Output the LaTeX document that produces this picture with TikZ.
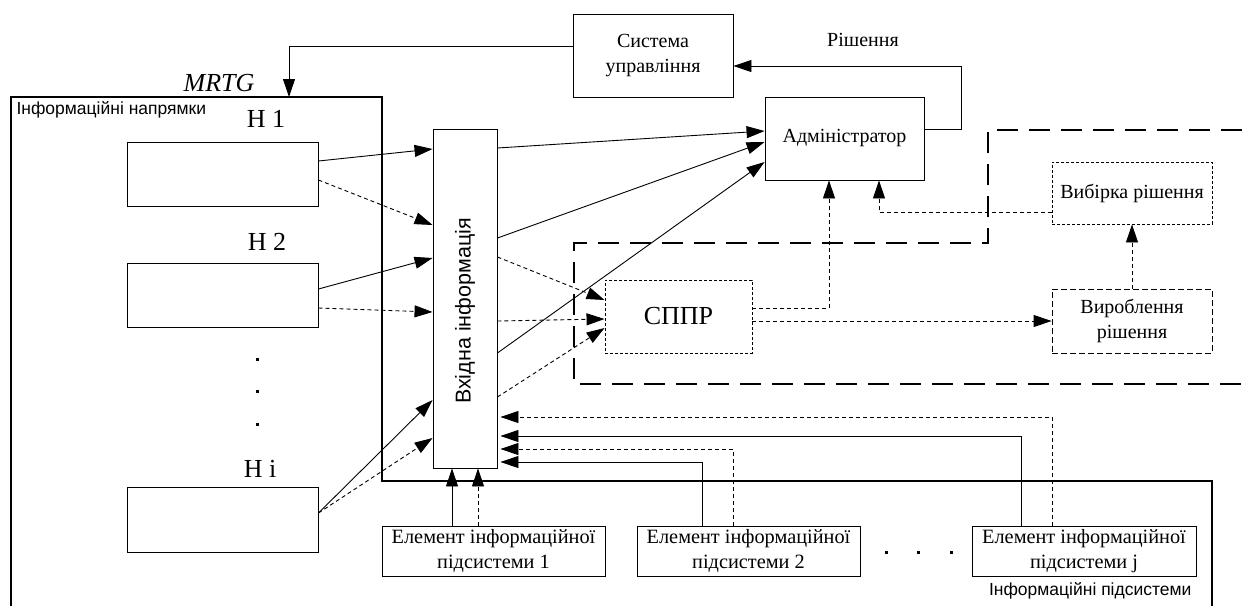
\documentclass[tikz,border=0pt]{standalone}
\usepackage{fontspec}
\setmainfont{Liberation Serif}
\setsansfont{Liberation Sans}
\usetikzlibrary{arrows.meta}
\begin{document}
\begin{tikzpicture}[x=1pt,y=-1pt,
  box/.style={draw, line width=0.9pt, inner sep=0pt, rectangle},
  dbox/.style={draw, line width=0.9pt, dash pattern=on 3pt off 2pt, inner sep=0pt, rectangle},
  d2box/.style={draw, line width=0.9pt, dash pattern=on 6pt off 3pt, inner sep=0pt, rectangle},
  lbl/.style={font=\fontsize{20}{25}\selectfont, align=center},
  elbl/.style={font=\fontsize{20.3}{25}\selectfont, align=center},
  biglbl/.style={font=\fontsize{26}{28}\selectfont},
  sanslbl/.style={font=\sffamily\fontsize{17.5}{20}\selectfont},
  arr/.style={-{Triangle[length=18pt,width=12pt]}, line width=0.9pt},
  darr/.style={arr, dash pattern=on 4pt off 3pt},
  thickline/.style={line width=2.8pt},
  thickdash/.style={line width=2.8pt, dash pattern=on 21pt off 11pt},
]
\useasboundingbox (0,0) rectangle (1242,606);

% big outer frame
\draw[thickline] (11,606) -- (11,97) -- (382,97) -- (382,481) -- (1212,481) -- (1212,606);
% decision region
\draw[thickdash] (1242,130) -- (988,130) -- (988,243) -- (574,243) -- (574,384) -- (1242,384);

% nodes
\node[box, lbl, minimum width=160pt, minimum height=83pt] (sys) at (653,55.5) {Система\\управління};
\node[box, lbl, minimum width=159pt, minimum height=83pt] (adm) at (844.5,138.5) {Адміністратор};
\node[box, minimum width=64pt, minimum height=339pt] (vh) at (465,298.5) {};
\node[rotate=90, font=\sffamily\fontsize{21.5}{24}\selectfont] (vhtxt) at (465,311) {Вхідна інформація};

\node[box, minimum width=191pt, minimum height=64pt] (h1) at (222.5,174) {};
\node[box, minimum width=191pt, minimum height=64pt] (h2) at (222.5,295) {};
\node[box, minimum width=191pt, minimum height=65pt] (hi) at (222.5,519.5) {};
\node[biglbl] (h1l) at (266,119) {Н 1};
\node[biglbl] (h2l) at (267,242) {Н 2};
\node[biglbl] (hil) at (260,469) {Н i};
\foreach \yy in {359,391,424} {
  \fill (255.5,\yy-1.5) rectangle ++(3,3);
}

\node[font=\itshape\fontsize{26}{28}\selectfont] (mrtg) at (219,83) {MRTG};
\node[sanslbl, anchor=west] (napr) at (13,110) {Інформаційні напрямки};
\node[sanslbl, anchor=east] (pids) at (1195,591) {Інформаційні підсистеми};
\node[lbl] (rish) at (863,40) {Рішення};

\node[dbox, biglbl, minimum width=147pt, minimum height=73pt] (sppr) at (678.5,316.5) {СППР};
\node[dbox, lbl, minimum width=160pt, minimum height=62pt] (vyb) at (1132,193) {Вибірка рішення};
\node[d2box, lbl, minimum width=160pt, minimum height=64pt] (vyr) at (1132,321) {Вироблення\\рішення};

\node[box, elbl, minimum width=223pt, minimum height=50pt] (e1) at (493.5,551) {Елемент інформаційної\\підсистеми 1};
\node[box, elbl, minimum width=223pt, minimum height=50pt] (e2) at (748.5,551) {Елемент інформаційної\\підсистеми 2};
\node[box, elbl, minimum width=224pt, minimum height=50pt] (ej) at (1084,551) {Елемент інформаційної\\підсистеми j};
\foreach \xx in {886,918,951} {
  \fill (\xx-1.5,550.5) rectangle ++(3,3);
}

% feedback from control system
\coordinate (mrtgtop) at (289,97);
\draw[arr] (sys.west |- 0,46) -- (289,46) -- (mrtgtop);
\draw[arr] (adm.east |- 0,129) -- (961,129) -- (961,66) -- (sys.east |- 0,66);

% H -> input
\draw[arr] (h1.east |- 0,161) -- (vh.west |- 0,149);
\draw[darr] (h1.east |- 0,180) -- (vh.west |- 0,225);
\draw[arr] (h2.east |- 0,289) -- (vh.west |- 0,258);
\draw[darr] (h2.east |- 0,308) -- (vh.west |- 0,312);
\draw[arr] (hi.east |- 0,513) -- (vh.west |- 0,400);
\draw[darr] (hi.east |- 0,513) -- (vh.west |- 0,438);

% input -> admin
\draw[arr] (vh.east |- 0,148) -- (adm.west |- 0,131);
\draw[arr] (vh.east |- 0,238) -- (adm.west |- 0,142);
\draw[arr] (vh.east |- 0,353) -- (adm.west |- 0,162);
% input -> SPPR
\draw[darr] (vh.east |- 0,257) -- (sppr.west |- 0,300);
\draw[darr] (vh.east |- 0,321) -- (sppr.west |- 0,319);
\draw[darr] (vh.east |- 0,397) -- (sppr.west |- 0,328);

% SPPR outputs
\draw[darr] (sppr.east |- 0,308) -- (829,308) -- (adm.south -| 829,0);
\draw[darr] (sppr.east |- 0,321) -- (vyr.west |- 0,321);
\draw[darr] (vyr.north) -- (vyb.south);
\draw[darr] (vyb.west |- 0,212) -- (879,212) -- (adm.south -| 879,0);

% elements -> input
\draw[arr] (e1.north -| 452,0) -- (vh.south -| 452,0);
\draw[darr] (e1.north -| 478,0) -- (vh.south -| 478,0);
\draw[darr] (ej.north -| 1052,0) -- (1052,417) -- ([xshift=3pt]vh.east |- 0,417);
\draw[arr] (ej.north -| 1021,0) -- (1021,436) -- ([xshift=3pt]vh.east |- 0,436);
\draw[darr] (e2.north -| 733,0) -- (733,449) -- ([xshift=3pt]vh.east |- 0,449);
\draw[arr] (e2.north -| 702,0) -- (702,462) -- ([xshift=3pt]vh.east |- 0,462);
\end{tikzpicture}
\end{document}
